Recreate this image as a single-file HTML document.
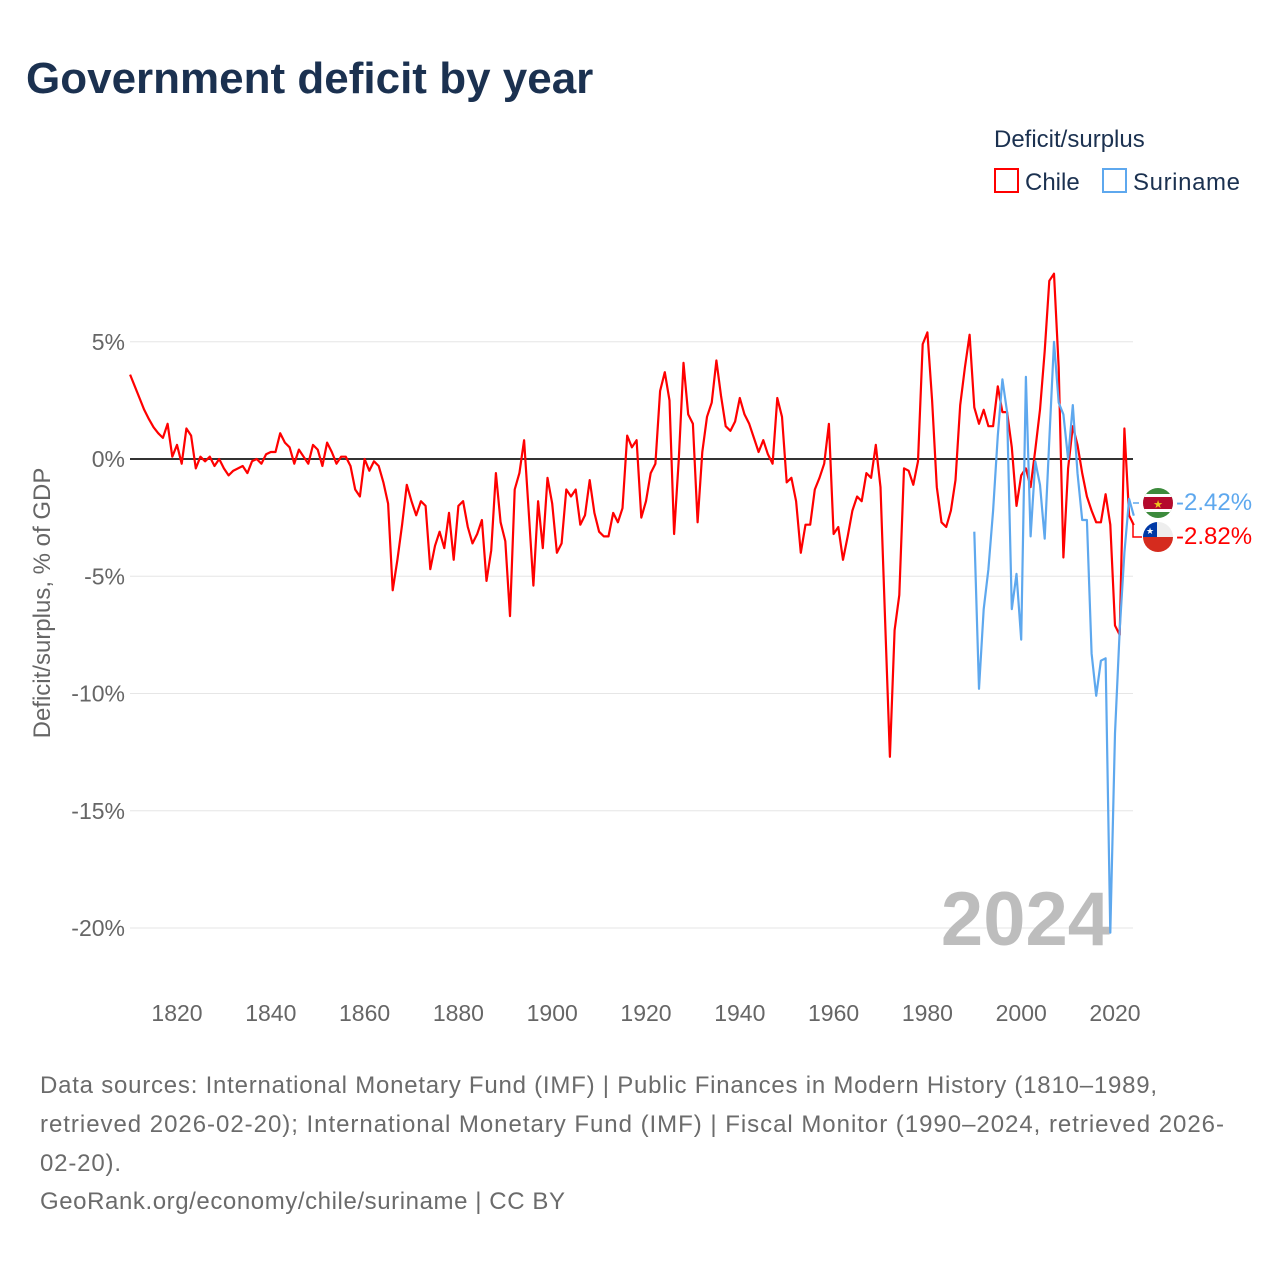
<!DOCTYPE html>
<html><head><meta charset="utf-8"><style>
body{margin:0;background:#fff;width:1280px;height:1280px;overflow:hidden;font-family:"Liberation Sans",sans-serif}
</style></head><body>
<svg id="chart" width="1280" height="1280" xmlns="http://www.w3.org/2000/svg" font-family="Liberation Sans, sans-serif">
<text x="26" y="93" font-size="44" font-weight="bold" fill="#1b3150">Government deficit by year</text>
<text x="994" y="147" font-size="24" fill="#1b3150">Deficit/surplus</text>
<g><rect x="995" y="169" width="23" height="23" fill="none" stroke="#ff0000" stroke-width="2"/><text x="1025" y="190" font-size="24" fill="#1b3150">Chile</text></g>
<g><rect x="1103" y="169" width="23" height="23" fill="none" stroke="#5ea8ee" stroke-width="2"/><text x="1133" y="190" font-size="24" fill="#1b3150" textLength="107">Suriname</text></g>
<text transform="translate(50,603) rotate(-90)" text-anchor="middle" font-size="24" fill="#666">Deficit/surplus, % of GDP</text>
<g id="grid"></g><g id="xt"></g>
<text x="1110" y="945" text-anchor="end" font-size="76" font-weight="bold" fill="#bdbdbd">2024</text>
<g id="series"></g>
<g>
<polyline points="1133,503 1139,503" fill="none" stroke="#5ea8ee" stroke-width="1.5"/>
<polyline points="1133,524 1133,537 1142,537" fill="none" stroke="#ff0000" stroke-width="1.5"/>
<g><clipPath id="cs"><circle cx="1158" cy="503" r="15"/></clipPath><g clip-path="url(#cs)"><rect x="1143" y="488" width="30" height="30" fill="#3c8a3c"/><rect x="1143" y="494" width="30" height="18" fill="#fff"/><rect x="1143" y="497" width="30" height="12" fill="#b40a2d"/><text x="1158" y="508" text-anchor="middle" font-size="11" fill="#ecc81d">★</text></g></g>
<g><clipPath id="cc"><circle cx="1158" cy="537" r="15"/></clipPath><g clip-path="url(#cc)"><rect x="1143" y="522" width="30" height="15" fill="#eee"/><rect x="1143" y="537" width="30" height="15" fill="#d52b1e"/><rect x="1143" y="522" width="14" height="15" fill="#0039a6"/><text x="1150" y="534" text-anchor="middle" font-size="9" fill="#fff">★</text></g></g>
<text x="1176" y="510" font-size="24" fill="#5ea8ee">-2.42%</text>
<text x="1176" y="544" font-size="24" fill="#ff0000">-2.82%</text>
</g>
<g font-size="24" fill="#6b6b6b">
<text x="40" y="1093" textLength="1117">Data sources: International Monetary Fund (IMF) | Public Finances in Modern History (1810–1989,</text>
<text x="40" y="1132" textLength="1184">retrieved 2026-02-20); International Monetary Fund (IMF) | Fiscal Monitor (1990–2024, retrieved 2026-</text>
<text x="40" y="1171" textLength="81">02-20).</text>
<text x="40" y="1209" textLength="525">GeoRank.org/economy/chile/suriname | CC BY</text>
</g>
</svg>
<script>
const chileStart = 1810;
const chileValues = [3.6,3.1,2.6,2.1,1.7,1.35,1.1,0.9,1.5,0.1,0.6,-0.2,1.3,1.0,-0.4,0.1,-0.1,0.1,-0.3,0.0,-0.4,-0.7,-0.5,-0.4,-0.3,-0.6,-0.1,0.0,-0.2,0.2,0.3,0.3,1.1,0.7,0.5,-0.2,0.4,0.1,-0.2,0.6,0.4,-0.3,0.7,0.3,-0.2,0.1,0.1,-0.3,-1.3,-1.6,0.0,-0.5,-0.1,-0.3,-1.0,-1.9,-5.6,-4.3,-2.8,-1.1,-1.8,-2.4,-1.8,-2.0,-4.7,-3.7,-3.1,-3.8,-2.3,-4.3,-2.0,-1.8,-2.9,-3.6,-3.2,-2.6,-5.2,-3.9,-0.6,-2.7,-3.5,-6.7,-1.3,-0.6,0.8,-2.3,-5.4,-1.8,-3.8,-0.8,-1.9,-4.0,-3.6,-1.3,-1.6,-1.3,-2.8,-2.4,-0.9,-2.3,-3.1,-3.3,-3.3,-2.3,-2.7,-2.1,1.0,0.5,0.8,-2.5,-1.8,-0.6,-0.2,2.9,3.7,2.5,-3.2,0.0,4.1,1.9,1.5,-2.7,0.3,1.8,2.4,4.2,2.7,1.4,1.2,1.6,2.6,1.9,1.5,0.9,0.3,0.8,0.2,-0.2,2.6,1.8,-1.0,-0.8,-1.8,-4.0,-2.8,-2.8,-1.3,-0.8,-0.2,1.5,-3.2,-2.9,-4.3,-3.3,-2.2,-1.6,-1.8,-0.6,-0.8,0.6,-1.2,-7.0,-12.7,-7.3,-5.8,-0.4,-0.5,-1.1,-0.1,4.9,5.4,2.5,-1.2,-2.7,-2.9,-2.2,-0.9,2.3,3.9,5.3,2.2,1.5,2.1,1.4,1.4,3.1,2.0,2.0,0.5,-2.0,-0.7,-0.4,-1.2,0.4,2.1,4.6,7.6,7.9,3.9,-4.2,-0.4,1.4,0.6,-0.6,-1.6,-2.2,-2.7,-2.7,-1.5,-2.8,-7.1,-7.5,1.3,-2.4,-2.82];
const surinameStart = 1990;
const surinameValues = [-3.1,-9.8,-6.4,-4.7,-2.2,1.0,3.4,2.0,-6.4,-4.9,-7.7,3.5,-3.3,-0.1,-1.1,-3.4,0.8,5.0,2.4,1.9,0.0,2.3,-0.6,-2.6,-2.6,-8.3,-10.1,-8.6,-8.5,-20.2,-11.7,-7.3,-4.0,-1.7,-2.42];
const yTicks = [5,0,-5,-10,-15,-20];
const yTickLabels = ["5%","0%","-5%","-10%","-15%","-20%"];
const xTicks = [1820,1840,1860,1880,1900,1920,1940,1960,1980,2000,2020];

const NS="http://www.w3.org/2000/svg";
const xs = y => 177 + (y-1820)*4.69;
const ys = v => 459 - v*23.45;
function mk(tag, attrs, parent){const e=document.createElementNS(NS,tag);for(const k in attrs)e.setAttribute(k,attrs[k]);parent.appendChild(e);return e;}
const grid=document.getElementById('grid');
yTicks.forEach((t,i)=>{
  const l=mk('line',{x1:130,x2:1133,y1:ys(t),y2:ys(t),stroke:t===0?'#333':'#e6e6e6','stroke-width':t===0?2:1},grid);
  
  
  const tx=mk('text',{x:125,y:ys(t)+8,'text-anchor':'end','font-size':23,fill:'#666'},grid);
  tx.textContent=yTickLabels[i];
  
  
});
const xt=document.getElementById('xt');
xTicks.forEach(t=>{
  const tx=mk('text',{x:xs(t),y:1021,'text-anchor':'middle','font-size':23,fill:'#666'},xt);
  tx.textContent=t;
  
  
});
const ser=document.getElementById('series');
function line(start, vals, color, name){
  const pts=vals.map((v,i)=>xs(start+i).toFixed(1)+','+ys(v).toFixed(1)).join(' ');
  const p=mk('polyline',{points:pts,fill:'none',stroke:color,'stroke-width':2.2,'stroke-linejoin':'round'},ser);
  
  
}
line(chileStart, chileValues, '#ff0000', 'chile-line');
line(surinameStart, surinameValues, '#5ea8ee', 'suriname-line');
</script>
</body></html>
